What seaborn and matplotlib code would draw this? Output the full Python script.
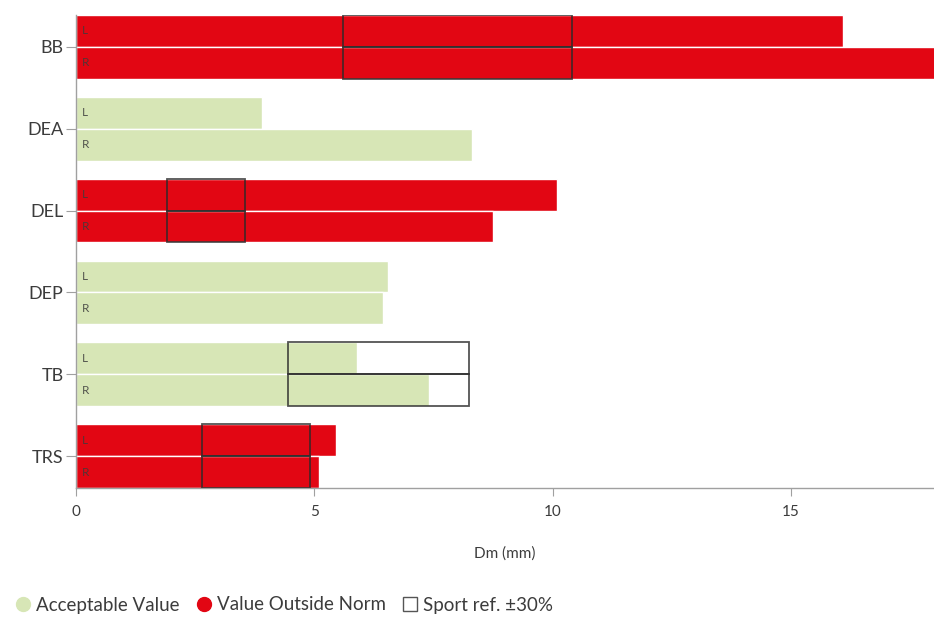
import numpy as np
import pandas as pd
import matplotlib
matplotlib.use("Agg")
import matplotlib.pyplot as plt
from matplotlib.patches import Rectangle
from matplotlib.lines import Line2D
import seaborn as sns

# Displacement (Dm, mm) per muscle, left and right side
categories = ["BB", "DEA", "DEL", "DEP", "TB", "TRS"]
left_dm = [16.1, 3.9, 10.1, 6.55, 5.9, 5.45]
right_dm = [18.6, 8.3, 8.75, 6.45, 7.4, 5.1]
# Sport reference value (None = no reference available)
sport_ref = [8.0, None, 2.72, None, 6.35, 3.78]
sides = ["L", "R"]

GREEN = "#d7e6b6"
RED = "#e20613"
TXT = "#3c3c3c"
AXC = "#a0a0a0"

sns.set_style("ticks")
plt.rcParams["font.family"] = ["Lato", "DejaVu Sans"]

df = pd.DataFrame({
    "muscle": categories * 2,
    "side": ["L"] * len(categories) + ["R"] * len(categories),
    "dm": left_dm + right_dm,
})

fig = plt.figure(figsize=(9.34, 6.19), dpi=100)
ax = fig.add_axes([76 / 934, 1 - 488 / 619, 1 - 76 / 934, (488 - 15) / 619])

sns.barplot(data=df, y="muscle", x="dm", hue="side", hue_order=sides,
            order=categories, orient="h", width=0.78, dodge=True,
            palette=[GREEN, GREEN], edgecolor="white", linewidth=1.0,
            legend=False, ax=ax, errorbar=None)


def outside_norm(value, ref):
    if ref is None:
        return False
    return value < 0.7 * ref or value > 1.3 * ref


values_by_side = {"L": left_dm, "R": right_dm}
for side, container in zip(sides, ax.containers):
    for i, bar in enumerate(container.patches):
        v = values_by_side[side][i]
        ref = sport_ref[i]
        bar.set_facecolor(RED if outside_norm(v, ref) else GREEN)
        y0, h = bar.get_y(), bar.get_height()
        ax.text(0.12, y0 + h / 2, side, fontsize=8.5, color=TXT,
                ha="left", va="center", alpha=0.85)
        if ref is not None:
            ax.add_patch(Rectangle((0.7 * ref, y0), 0.6 * ref, h,
                                   facecolor="none", edgecolor="#2a2a2a",
                                   linewidth=1.3, alpha=0.8, zorder=3))

ax.set_xlim(0, 18)
ax.set_ylim(len(categories) - 1 + 0.39, -0.39)
ax.set_xticks([0, 5, 10, 15])
ax.set_xlabel("Dm (mm)", fontsize=11, color=TXT, labelpad=20)
ax.set_ylabel("")
ax.tick_params(axis="x", colors=AXC, labelcolor=TXT, labelsize=11,
               length=6, pad=6)
ax.tick_params(axis="y", colors=AXC, labelcolor=TXT, labelsize=13,
               length=7, pad=2)
for s in ["top", "right"]:
    ax.spines[s].set_visible(False)
for s in ["left", "bottom"]:
    ax.spines[s].set_color(AXC)
    ax.spines[s].set_linewidth(1.0)

handles = [
    Line2D([], [], marker="o", linestyle="none", markersize=10,
           markerfacecolor=GREEN, markeredgecolor=GREEN),
    Line2D([], [], marker="o", linestyle="none", markersize=10,
           markerfacecolor=RED, markeredgecolor=RED),
    Line2D([], [], marker="s", linestyle="none", markersize=9.5,
           markerfacecolor="white", markeredgecolor="#555555",
           markeredgewidth=1.0),
]
labels = ["Acceptable Value", "Value Outside Norm", "Sport ref. \u00b130%"]
fig.legend(handles, labels, loc="center left",
           bbox_to_anchor=(0.0, 1 - 605 / 619), ncol=3, frameon=False,
           fontsize=13.5, handletextpad=0.1, columnspacing=0.7,
           handlelength=1.2, labelcolor=TXT, borderaxespad=0.2)

fig.savefig("out.png", dpi=100)
